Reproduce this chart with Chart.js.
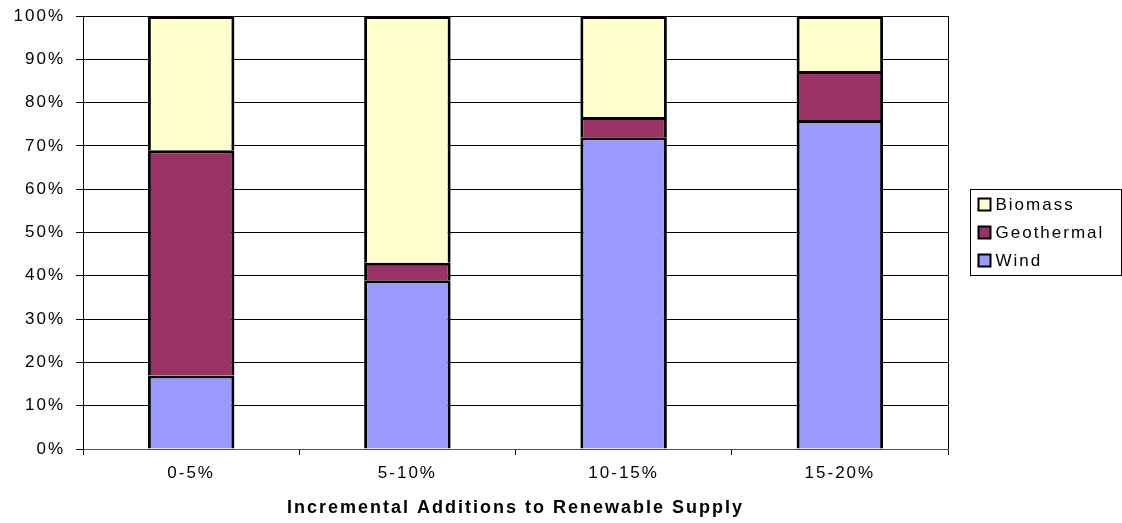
<!DOCTYPE html>
<html>
<head>
<meta charset="utf-8">
<script src="https://cdn.jsdelivr.net/npm/chart.js@4.4.0/dist/chart.umd.min.js"></script>
<style>
  html, body { margin: 0; padding: 0; background: #fff; }
  #wrap { width: 1122px; height: 523px; position: relative; }
</style>
</head>
<body>
<div id="wrap"><canvas id="chart"></canvas></div>
<script>
// categories and shares (percent of each increment)
const categories = ['0-5%', '5-10%', '10-15%', '15-20%'];
const wind = [17, 39, 72, 76];
const geothermal = [52, 4, 4.7, 11.3];
const biomass = [31, 57, 23.3, 12.7];
const axisTitle = 'Incremental Additions to Renewable Supply';

const FONT = "Arial, 'Liberation Sans', sans-serif";
const SPACING = '2px';

// wide letter spacing like the original
const spacingPlugin = {
    id: 'spacing',
    beforeUpdate(chart) { chart.ctx.letterSpacing = SPACING; },
    beforeDraw(chart) { chart.ctx.letterSpacing = SPACING; }
};

// plot frame + boxed legend on the right
const framePlugin = {
    id: 'frame',
    afterDraw(chart) {
        const ctx = chart.ctx;
        const a = chart.chartArea;
        ctx.save();
        ctx.strokeStyle = '#000';
        ctx.lineWidth = 1;
        ctx.beginPath();
        ctx.moveTo(a.right + 0.5, a.top);
        ctx.lineTo(a.right + 0.5, a.bottom);
        ctx.stroke();

        // legend
        const items = chart.data.datasets.slice().reverse();
        const bx = a.right + 22.5, bw = 151, bh = 86;
        const by = Math.round((a.top + a.bottom) / 2 - bh / 2 - 1) + 0.5;
        ctx.strokeStyle = '#000';
        ctx.strokeRect(bx, by, bw, bh);
        ctx.font = '17px ' + FONT;
        ctx.letterSpacing = SPACING;
        ctx.textBaseline = 'middle';
        items.forEach((ds, i) => {
            const cy = by + 15 + i * 28;
            ctx.fillStyle = ds.backgroundColor;
            ctx.fillRect(bx + 8, cy - 6, 12, 12);
            ctx.lineWidth = 2;
            ctx.strokeRect(bx + 8, cy - 6, 12, 12);
            ctx.fillStyle = '#000';
            ctx.fillText(ds.label, bx + 25, cy + 1);
        });
        ctx.restore();
    }
};

const segBorder = { top: 3, left: 3, right: 3, bottom: 0 };

new Chart(document.getElementById('chart'), {
    type: 'bar',
    data: {
        labels: categories,
        datasets: [
            { label: 'Wind', data: wind, backgroundColor: '#9999FF', borderColor: '#000', borderWidth: segBorder },
            { label: 'Geothermal', data: geothermal, backgroundColor: '#993366', borderColor: '#000', borderWidth: segBorder },
            { label: 'Biomass', data: biomass, backgroundColor: '#FFFFCC', borderColor: '#000', borderWidth: segBorder }
        ]
    },
    options: {
        responsive: true,
        maintainAspectRatio: false,
        animation: false,
        datasets: { bar: { categoryPercentage: 1, barPercentage: 0.4, borderSkipped: false } },
        layout: { padding: { top: 16, right: 174, bottom: 0, left: 0 } },
        plugins: {
            legend: { display: false },
            tooltip: { enabled: false }
        },
        scales: {
            x: {
                stacked: true,
                afterFit: s => { s.height = 74; s.paddingLeft = 0; s.paddingRight = 0; },
                grid: { offset: true, drawOnChartArea: false, color: '#000', tickLength: 6 },
                border: { color: '#555', width: 1 },
                ticks: { color: '#000', padding: 8, font: { family: FONT, size: 17 } },
                title: {
                    display: true,
                    text: axisTitle,
                    color: '#000',
                    font: { family: FONT, size: 18, weight: 'bold' },
                    padding: { top: 0, bottom: 4 }
                }
            },
            y: {
                stacked: true,
                min: 0,
                max: 100,
                afterFit: s => { s.width = 83; s.paddingTop = 0; s.paddingBottom = 0; },
                grid: { color: '#000', lineWidth: 1, tickLength: 7 },
                border: { color: '#000', width: 1 },
                ticks: {
                    stepSize: 10,
                    color: '#000',
                    padding: 11,
                    font: { family: FONT, size: 17 },
                    callback: v => v + '%'
                }
            }
        }
    },
    plugins: [spacingPlugin, framePlugin]
});
</script>
</body>
</html>
